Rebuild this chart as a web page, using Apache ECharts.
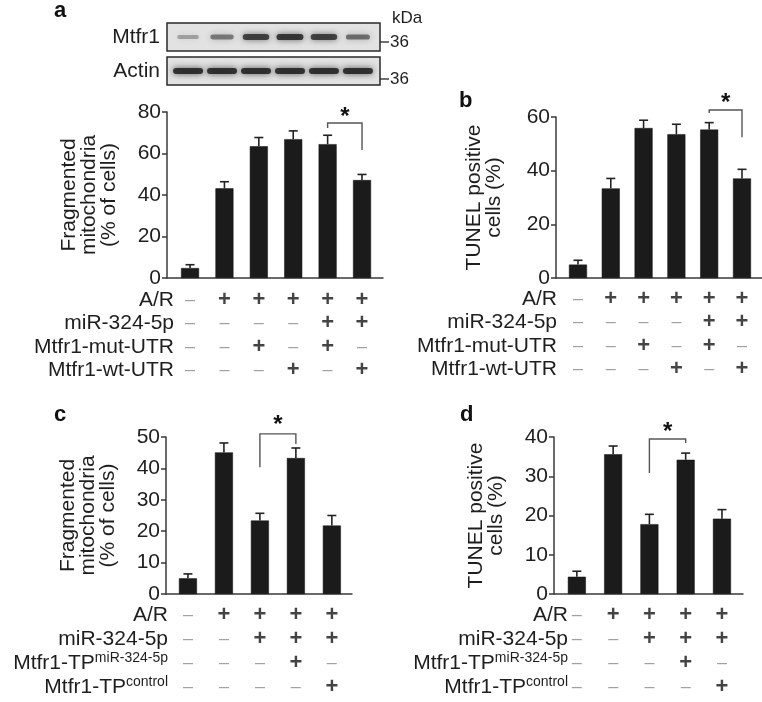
<!DOCTYPE html>
<html><head><meta charset="utf-8">
<script src="https://cdn.jsdelivr.net/npm/echarts@6/dist/echarts.min.js"></script>
<style>html,body{margin:0;padding:0;background:#fff}#c{width:762px;height:702px}</style>
</head><body><div id="c"></div>
<script>
// ---------- data ----------
const blotRows = ['Mtfr1', 'Actin'];
const mtfr1Bands = [0.35, 0.55, 0.85, 0.9, 0.85, 0.6];
const actinBands = [0.95, 0.95, 0.95, 0.95, 0.95, 0.95];
const markerKDa = ['36', '36'];

const abRows = ['A/R', 'miR-324-5p', 'Mtfr1-mut-UTR', 'Mtfr1-wt-UTR'];
const abTable = [
  ['-', '+', '+', '+', '+', '+'],
  ['-', '-', '-', '-', '+', '+'],
  ['-', '-', '+', '-', '+', '-'],
  ['-', '-', '-', '+', '-', '+']
];
const cdRows = ['A/R', 'miR-324-5p', 'Mtfr1-TP^miR-324-5p', 'Mtfr1-TP^control'];
const cdTable = [
  ['-', '+', '+', '+', '+'],
  ['-', '-', '+', '+', '+'],
  ['-', '-', '-', '+', '-'],
  ['-', '-', '-', '-', '+']
];

const aValues = [4.8, 43.2, 63.5, 66.9, 64.5, 47.2];
const aErrors = [1.6, 3.2, 4.2, 4.0, 4.3, 2.7];
const bValues = [5.0, 33.4, 55.9, 53.6, 55.3, 37.1];
const bErrors = [1.6, 3.7, 2.9, 3.7, 2.6, 3.4];
const cValues = [5.0, 45.1, 23.4, 43.3, 21.8];
const cErrors = [1.4, 3.0, 2.3, 3.2, 3.2];
const dValues = [4.4, 35.6, 17.8, 34.2, 19.2];
const dErrors = [1.4, 2.1, 2.5, 1.7, 2.3];

// significance brackets: [fromCol, toCol, top, leftEnd, rightEnd, starY]
const aSig = [5, 6, 74.7, 72.3, 61.7, 77.6];
const bSig = [5, 6, 62.6, 61.5, 52.5, 65.2];
const cSig = [3, 4, 51.0, 40.4, 47.8, 53.8];
const dSig = [3, 4, 39.5, 30.8, 38.5, 41.3];

const yTitleFrag = 'Fragmented\nmitochondria\n(% of cells)';
const yTitleTunel = 'TUNEL positive\ncells (%)';

// ---------- helpers ----------
const FONT = 'Liberation Sans, Arial, Helvetica, sans-serif';
const TXT = '#1e1e1e';
const AX = '#3a3a3a';

function errRender(params, api) {
  const x = api.value(0), v = api.value(1), e = api.value(2);
  const p0 = api.coord([x, v]), p1 = api.coord([x, v + e]);
  const st = { stroke: '#222', lineWidth: 1.6 };
  return { type: 'group', children: [
    { type: 'line', shape: { x1: p0[0], y1: p0[1], x2: p1[0], y2: p1[1] }, style: st },
    { type: 'line', shape: { x1: p1[0] - 4.5, y1: p1[1], x2: p1[0] + 4.5, y2: p1[1] }, style: st }
  ]};
}
function sigRender(params, api) {
  const f = api.value(0), t = api.value(1), top = api.value(2), le = api.value(3), re = api.value(4), sy = api.value(5);
  const pl = api.coord([f, top]), pr = api.coord([t, top]);
  const ple = api.coord([f, le]), pre = api.coord([t, re]);
  const ps = api.coord([(f + t) / 2, sy]);
  const st = { stroke: '#555', lineWidth: 1.4, fill: null };
  return { type: 'group', children: [
    { type: 'polyline', shape: { points: [[ple[0], ple[1]], [pl[0], pl[1]], [pr[0], pr[1]], [pre[0], pre[1]]] }, style: st },
    { type: 'text', x: ps[0], y: ps[1], style: { text: '*', font: 'bold 24px ' + FONT, fill: '#111', align: 'center', verticalAlign: 'middle' } }
  ]};
}

const grids = [], xAxes = [], yAxes = [], series = [];

function addPanel(g, vals, errs, sig, ymax, yint, yTitle, nameGap, rows, table, tg, labelMargin) {
  const gi = grids.length;
  grids.push({ left: g.left, top: g.top, width: g.width, height: g.height });
  xAxes.push({ gridIndex: gi, type: 'value', min: g.xmin, max: g.xmax, show: true,
    axisLine: { show: true, onZero: false, lineStyle: { color: AX, width: 1.5 } },
    axisTick: { show: false }, axisLabel: { show: false }, splitLine: { show: false } });
  yAxes.push({ gridIndex: gi, type: 'value', min: 0, max: ymax, interval: yint,
    axisLine: { show: true, lineStyle: { color: AX, width: 1.5 } },
    axisTick: { show: true, inside: false, length: 5, lineStyle: { color: AX, width: 1.5 } },
    axisLabel: { fontSize: 21, color: TXT, fontFamily: FONT, margin: 6 },
    splitLine: { show: false },
    name: yTitle, nameLocation: 'middle', nameRotate: 90, nameGap: nameGap,
    nameTextStyle: { fontSize: 21, lineHeight: 20, color: TXT, fontFamily: FONT, align: 'center' } });
  series.push({ type: 'bar', xAxisIndex: gi, yAxisIndex: gi, barWidth: 18,
    itemStyle: { color: '#1b1b1b', borderColor: '#111', borderWidth: 0.5 },
    data: vals.map((v, i) => [i + 1, v]) });
  series.push({ type: 'custom', xAxisIndex: gi, yAxisIndex: gi, renderItem: errRender, z: 3,
    encode: { x: 0, y: 1 }, data: vals.map((v, i) => [i + 1, v, errs[i]]) });
  series.push({ type: 'custom', xAxisIndex: gi, yAxisIndex: gi, renderItem: sigRender, z: 3, clip: false,
    encode: { x: [0, 1], y: 2 }, data: [sig] });

  // condition table
  const ti = grids.length;
  grids.push({ left: g.left, top: tg.top, width: g.width, height: tg.height });
  xAxes.push({ gridIndex: ti, type: 'value', min: g.xmin, max: g.xmax, show: false });
  yAxes.push({ gridIndex: ti, type: 'category', inverse: true, data: rows,
    axisLine: { show: false }, axisTick: { show: false }, splitLine: { show: false },
    axisLabel: { interval: 0, hideOverlap: false, margin: labelMargin, fontFamily: FONT, color: TXT, fontSize: 21,
      formatter: function (v) {
        const p = v.split('^');
        return p.length > 1 ? '{n|' + p[0] + '}{s|' + p[1] + '}' : '{n|' + v + '}';
      },
      rich: { n: { fontSize: 21, fontFamily: FONT, color: TXT },
              s: { fontSize: 14, fontFamily: FONT, color: TXT, padding: [0, 0, 9, 0] } } } });
  const td = [];
  table.forEach((row, r) => row.forEach((s, c) => {
    td.push({ value: [c + 1, r], label: { formatter: s === '+' ? '+' : '–',
      color: s === '+' ? '#151515' : '#8a8a8a', fontSize: s === '+' ? 22 : 18,
      fontWeight: s === '+' ? 'bold' : 'normal' } });
  }));
  series.push({ type: 'scatter', xAxisIndex: ti, yAxisIndex: ti, symbolSize: 0, silent: true,
    label: { show: true, position: 'inside', fontFamily: FONT }, data: td });
}

// panel a
addPanel({ left: 167, top: 112, width: 216, height: 166, xmin: 0.33, xmax: 6.61 },
  aValues, aErrors, aSig, 80, 20, yTitleFrag, 48, abRows, abTable, { top: 288, height: 94 }, -7);
// panel b
addPanel({ left: 556, top: 117, width: 206, height: 161, xmin: 0.33, xmax: 6.61 },
  bValues, bErrors, bSig, 60, 20, yTitleTunel, 52, abRows, abTable, { top: 287, height: 94 }, -1);
// panel c
addPanel({ left: 166, top: 437, width: 186, height: 157, xmin: 0.39, xmax: 5.56 },
  cValues, cErrors, cSig, 50, 10, yTitleFrag, 48, cdRows, cdTable, { top: 603, height: 96 }, -2);
// panel d
addPanel({ left: 554, top: 437, width: 189, height: 157, xmin: 0.37, xmax: 5.58 },
  dValues, dErrors, dSig, 40, 10, yTitleTunel, 48, cdRows, cdTable, { top: 603, height: 96 }, -14);

// western blot
const bi = grids.length;
grids.push({ left: 167, top: 20, width: 213, height: 68 });
xAxes.push({ gridIndex: bi, type: 'value', min: 0.38, max: 6.65, show: false });
yAxes.push({ gridIndex: bi, type: 'category', inverse: true, data: blotRows,
  axisLine: { show: false }, axisTick: { show: false },
  axisLabel: { interval: 0, fontSize: 21, color: TXT, fontFamily: FONT, margin: 7 } });
series.push({ type: 'custom', xAxisIndex: bi, yAxisIndex: bi, clip: false, z: 1,
  encode: { y: 0 },
  data: blotRows.map((r, i) => [i, markerKDa[i]]),
  renderItem: function (params, api) {
    const cs = params.coordSys;
    const c = api.coord([1, api.value(0)]);
    const h = 28;
    const y0 = c[1] - h / 2;
    const my = api.value(0) === 0 ? c[1] + 5 : c[1] + 8;
    const children = [
      { type: 'rect', shape: { x: cs.x, y: y0, width: cs.width, height: h },
        style: { fill: '#e2e2e2', stroke: '#2a2a2a', lineWidth: 1.5 } },
      { type: 'line', shape: { x1: cs.x + cs.width, y1: my, x2: cs.x + cs.width + 9, y2: my },
        style: { stroke: '#222', lineWidth: 1.3 } },
      { type: 'text', x: cs.x + cs.width + 10, y: my, style: { text: String(markerKDa[api.value(0)]),
        font: '17px ' + FONT, fill: TXT, verticalAlign: 'middle', align: 'left' } }
    ];
    if (api.value(0) === 0) {
      children.push({ type: 'text', x: cs.x + cs.width + 12, y: y0 - 5,
        style: { text: 'kDa', font: '17px ' + FONT, fill: TXT, verticalAlign: 'middle', align: 'left' } });
    }
    return { type: 'group', children: children };
  } });
const bandData = [];
mtfr1Bands.forEach((v, i) => bandData.push([i + 1, 0, v]));
actinBands.forEach((v, i) => bandData.push([i + 1, 1, v]));
series.push({ type: 'custom', xAxisIndex: bi, yAxisIndex: bi, z: 2, encode: { x: 0, y: 1 },
  data: bandData,
  renderItem: function (params, api) {
    const p = api.coord([api.value(0), api.value(1)]);
    const k = api.value(2);
    const isActin = api.value(1) === 1;
    const w = isActin ? 30 : 18 + 10 * k;
    const h = isActin ? 6 : 3 + 3.5 * k;
    const col = 'rgba(30,30,30,' + (k * 0.9) + ')';
    return { type: 'rect', shape: { x: p[0] - w / 2, y: p[1] - h / 2, width: w, height: h, r: h / 2 },
      style: { fill: col, shadowBlur: 6, shadowColor: col } };
  } });

const option = {
  animation: false,
  backgroundColor: '#ffffff',
  textStyle: { fontFamily: FONT },
  grid: grids, xAxis: xAxes, yAxis: yAxes, series: series,
  graphic: [
    { type: 'text', left: 54, top: 0, style: { text: 'a', font: 'bold 22px ' + FONT, fill: '#111' } },
    { type: 'text', left: 459, top: 90, style: { text: 'b', font: 'bold 22px ' + FONT, fill: '#111' } },
    { type: 'text', left: 54, top: 404, style: { text: 'c', font: 'bold 22px ' + FONT, fill: '#111' } },
    { type: 'text', left: 460, top: 404, style: { text: 'd', font: 'bold 22px ' + FONT, fill: '#111' } }
  ]
};
const chart = echarts.init(document.getElementById('c'), null, { renderer: 'canvas' });
chart.setOption(option);
</script></body></html>
